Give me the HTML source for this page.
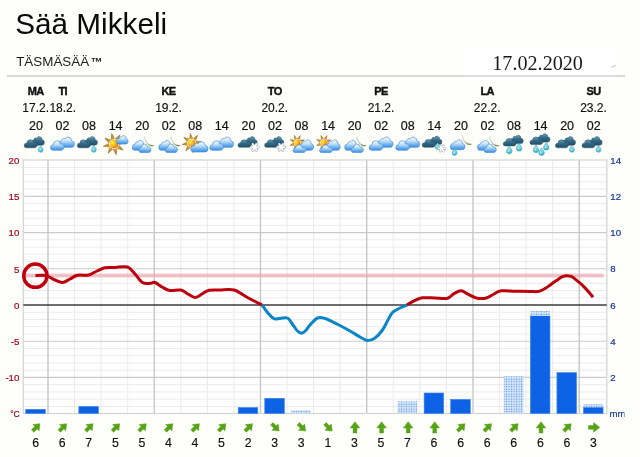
<!DOCTYPE html>
<html lang="fi"><head><meta charset="utf-8"><title>Sää Mikkeli</title>
<style>
html,body{margin:0;padding:0;}
body{width:640px;height:457px;overflow:hidden;background:#fefefb;position:relative;font-family:"Liberation Sans",Arial,sans-serif;color:#111;}
#title{position:absolute;left:15.3px;top:7.2px;font-size:29.7px;line-height:34px;color:#0a0a0a;white-space:nowrap;}
#sub{position:absolute;left:16.2px;top:55px;font-size:13.4px;line-height:14px;color:#1c1c1c;white-space:nowrap;}
#sub b{font-size:12px;margin-left:1.6px;line-height:10px;}
#date{position:absolute;left:492.3px;top:50.6px;transform:scaleY(1.04);transform-origin:0 100%;font-family:"Liberation Serif","Times New Roman",serif;font-size:20.15px;line-height:24px;color:#1a1a1a;white-space:nowrap;}
#rule{position:absolute;left:7px;top:74.6px;width:618px;height:2.4px;background:#dadad8;}
#patch{position:absolute;left:465px;top:44px;width:151px;height:34px;background:#ffffff;box-shadow:0 0 3px 1px #ffffff;}
#rule2{position:absolute;left:466px;top:74.6px;width:150px;height:2.4px;background:#dfdfdd;}
svg{position:absolute;left:0;top:0;}
.day{stroke:#111;stroke-width:0.4px;letter-spacing:-0.6px;font:bold 11px "Liberation Sans",Arial,sans-serif;fill:#111;text-anchor:middle;}
.dt{stroke:#111;stroke-width:0.15px;font:12px "Liberation Sans",Arial,sans-serif;fill:#111;text-anchor:middle;}
.hr{stroke:#111;stroke-width:0.2px;font:12.5px "Liberation Sans",Arial,sans-serif;fill:#111;text-anchor:middle;}
.la{font:9.7px "Liberation Sans",Arial,sans-serif;fill:#9c0016;stroke:#9c0016;stroke-width:0.2px;text-anchor:end;}
.ra{font:9.7px "Liberation Sans",Arial,sans-serif;fill:#183a9c;stroke:#183a9c;stroke-width:0.22px;text-anchor:start;}
.wn{stroke:#111;stroke-width:0.15px;font:12.3px "Liberation Sans",Arial,sans-serif;fill:#111;text-anchor:middle;}
</style></head><body>
<div id="title">Sää Mikkeli</div>
<div id="sub">TÄSMÄSÄÄ<b>™</b></div>
<div id="patch"></div>
<div id="date">17.02.2020</div>
<div id="rule"></div><div id="rule2"></div>
<svg width="640" height="457" viewBox="0 0 640 457">
<defs>
<linearGradient id="gd" x1="0" y1="0" x2="0" y2="1"><stop offset="0" stop-color="#6aa0ba"/><stop offset="0.45" stop-color="#356b88"/><stop offset="1" stop-color="#234d66"/></linearGradient>
<linearGradient id="gl" x1="0" y1="0" x2="0" y2="1"><stop offset="0" stop-color="#f6fbff"/><stop offset="0.38" stop-color="#c6e2f9"/><stop offset="0.68" stop-color="#78b8ef"/><stop offset="1" stop-color="#3a8ce0"/></linearGradient>
<radialGradient id="gs" cx="0.36" cy="0.32" r="0.8"><stop offset="0" stop-color="#fff04a"/><stop offset="0.38" stop-color="#ffc814"/><stop offset="0.72" stop-color="#f38a14"/><stop offset="1" stop-color="#dc4a14"/></radialGradient>
<linearGradient id="gy" x1="0" y1="0" x2="0" y2="1"><stop offset="0" stop-color="#7c5410"/><stop offset="0.5" stop-color="#c08a1c"/><stop offset="1" stop-color="#e6aa2a"/></linearGradient>
<linearGradient id="gm" x1="0" y1="0" x2="1" y2="1"><stop offset="0" stop-color="#dde2bc"/><stop offset="0.55" stop-color="#a9b268"/><stop offset="0.85" stop-color="#6c7634"/><stop offset="1" stop-color="#3f4a1c"/></linearGradient>
<linearGradient id="gr" x1="0" y1="0" x2="0" y2="1"><stop offset="0" stop-color="#b7ecf2"/><stop offset="1" stop-color="#35b4c8"/></linearGradient>
<pattern id="dots" x="0.3" y="0.5" width="2.5" height="2.5" patternUnits="userSpaceOnUse"><rect x="0" y="0" width="2.5" height="2.5" fill="#d9ebfc"/><rect x="0.7" y="0.6" width="1.2" height="1.2" fill="#5a8ae0"/></pattern>
<path id="cl" vector-effect="non-scaling-stroke" d="M3.2 11.6C1.2 11.6 0 10.4 0 8.8C0 7.2 1.2 6.1 2.8 6.1C3 3.9 4.7 2.4 6.8 2.4C7.6 2.4 8.3 2.6 8.9 3C9.7 1.2 11.4 0 13.4 0C15.9 0 17.9 1.9 18.1 4.3C19.3 4.8 20 5.9 20 7.2C20 8.9 18.7 10.1 17 10.1L14.5 10.1C14 11 13.2 11.6 12 11.6Z"/>
<path id="cl1" vector-effect="non-scaling-stroke" d="M3.60 12.00A3.60 3.60 0 1 1 3.85 4.81A3.60 3.60 0 0 1 8.53 1.98A4.40 4.40 0 0 1 16.60 4.42A3.80 3.80 0 0 1 16.20 12.00Z"/>
<path id="cl2" vector-effect="non-scaling-stroke" d="M3.40 12.00A3.40 3.40 0 1 1 4.00 5.25A5.20 5.20 0 0 1 14.32 4.28A4.00 4.00 0 1 1 15.80 12.00Z"/>
<g id="drop"><path d="M0 -3.6C1.2 -1.7 2.7 -0.3 2.7 1.2A2.7 2.7 0 0 1 -2.7 1.2C-2.7 -0.3 -1.2 -1.7 0 -3.6Z" fill="url(#gr)" stroke="#2e9db2" stroke-width="0.6"/><ellipse cx="-0.7" cy="0.9" rx="0.9" ry="1.2" fill="#d8f8fb" fill-opacity="0.7"/></g>
<g id="flake" stroke-linecap="round" fill="none"><path d="M-3.4 0H3.4M-1.7 -2.95L1.7 2.95M1.7 -2.95L-1.7 2.95" stroke="#8e9da8" stroke-width="2.6"/><path d="M-3.4 0H3.4M-1.7 -2.95L1.7 2.95M1.7 -2.95L-1.7 2.95" stroke="#fbfcfd" stroke-width="1.7"/></g>
<path id="ray" d="M0 -10.9L1.8 -5.1L-1.8 -5.1Z" fill="url(#gy)" stroke="#8a5a12" stroke-width="0.4" stroke-linejoin="round"/>
<g id="sun"><use href="#ray"/><use href="#ray" transform="rotate(45)"/><use href="#ray" transform="rotate(90)"/><use href="#ray" transform="rotate(135)"/><use href="#ray" transform="rotate(180)"/><use href="#ray" transform="rotate(225)"/><use href="#ray" transform="rotate(270)"/><use href="#ray" transform="rotate(315)"/>
<circle r="4.1" fill="url(#gs)"/></g>
<path id="moon" d="M0 0C0.2 5.6 3.8 9.9 10.6 10.1C9.2 11.3 6.4 11.2 4.4 9.6C1.4 7.2 0.2 3.6 0 0Z" fill="url(#gm)" stroke="#8a9450" stroke-width="0.25"/>
<path id="arr" d="M0 -5.7L4.8 0.5L1.9 0.5L1.9 5.6L-1.9 5.6L-1.9 0.5L-4.8 0.5Z" fill="#56a416" stroke="#56a416" stroke-width="0.5" stroke-linejoin="round"/>
<g id="iA"><use href="#cl1" transform="translate(-3.50 -7.40) scale(0.6600 0.7167)" fill="url(#gd)" stroke="#27536b" stroke-width="0.5"/><use href="#cl2" transform="translate(-10.50 -4.20) scale(0.6550 0.6667)" fill="url(#gd)" stroke="#27536b" stroke-width="0.5"/><use href="#drop" transform="translate(6.00 4.70) scale(0.92)"/></g>
<g id="iB"><use href="#cl1" transform="translate(-3.30 -7.00) scale(0.8200 0.8583)" fill="url(#gl)" stroke="#4a92de" stroke-width="0.7"/><use href="#cl2" transform="translate(-10.80 -3.20) scale(0.6850 0.7833)" fill="url(#gl)" stroke="#4a92de" stroke-width="0.7"/></g>
<g id="iC"><use href="#sun" transform="translate(-0.40 0.10) rotate(-12) scale(1.0)"/><use href="#cl1" transform="translate(2.00 -8.40) scale(0.5850 0.7000)" fill="url(#gl)" stroke="#4a92de" stroke-width="0.7"/></g>
<g id="iD"><use href="#moon" transform="translate(3.60 -7.60) scale(0.9)"/><use href="#cl1" transform="translate(-8.70 -3.70) scale(0.6800 0.8250)" fill="url(#gl)" stroke="#4a92de" stroke-width="0.7"/><use href="#cl2" transform="translate(-2.10 0.00) scale(0.6100 0.7083)" fill="url(#gl)" stroke="#4a92de" stroke-width="0.7"/></g>
<g id="iE"><use href="#sun" transform="translate(-2.40 -0.90) rotate(-8) scale(0.9)"/><use href="#cl1" transform="translate(-3.30 -2.30) scale(0.8650 0.8583)" fill="url(#gl)" stroke="#4a92de" stroke-width="0.7"/></g>
<g id="iF"><use href="#cl1" transform="translate(-2.50 -7.40) scale(0.6250 0.7000)" fill="url(#gd)" stroke="#27536b" stroke-width="0.5"/><use href="#cl2" transform="translate(-9.20 -4.20) scale(0.6600 0.6250)" fill="url(#gd)" stroke="#27536b" stroke-width="0.5"/><use href="#flake" transform="translate(7.40 3.20) scale(1.05)"/></g>
<g id="iG"><use href="#sun" transform="translate(-3.10 -1.35) rotate(-22) scale(0.72)"/><use href="#cl1" transform="translate(-1.30 -4.20) scale(0.7300 0.8667)" fill="url(#gl)" stroke="#4a92de" stroke-width="0.7"/><use href="#cl2" transform="translate(-7.30 1.00) scale(0.6500 0.6250)" fill="url(#gl)" stroke="#4a92de" stroke-width="0.7"/></g>
<g id="iH"><use href="#cl1" transform="translate(-4.00 -7.90) scale(0.6400 0.7083)" fill="url(#gd)" stroke="#27536b" stroke-width="0.5"/><use href="#cl2" transform="translate(-10.90 -4.60) scale(0.6650 0.6583)" fill="url(#gd)" stroke="#27536b" stroke-width="0.5"/><use href="#drop" transform="translate(4.60 2.00) scale(0.9)"/><use href="#flake" transform="translate(8.60 4.40) scale(0.95)"/></g>
<g id="iI"><use href="#moon" transform="translate(2.60 -9.00) scale(0.9)"/><use href="#cl1" transform="translate(-9.40 -4.20) scale(0.7300 0.8250)" fill="url(#gl)" stroke="#4a92de" stroke-width="0.7"/><use href="#drop" transform="translate(-5.10 7.90) scale(0.9)"/></g>
<g id="iJ"><use href="#cl1" transform="translate(-2.60 -8.80) scale(0.6550 0.7000)" fill="url(#gd)" stroke="#27536b" stroke-width="0.5"/><use href="#cl2" transform="translate(-9.60 -5.60) scale(0.6600 0.6333)" fill="url(#gd)" stroke="#27536b" stroke-width="0.5"/><use href="#drop" transform="translate(-3.50 5.90) scale(1.0)"/><use href="#drop" transform="translate(6.30 3.20) scale(1.0)"/></g>
<g id="iK"><use href="#cl1" transform="translate(-2.60 -10.25) scale(0.6600 0.6958)" fill="url(#gd)" stroke="#27536b" stroke-width="0.5"/><use href="#cl2" transform="translate(-9.50 -7.00) scale(0.6550 0.6250)" fill="url(#gd)" stroke="#27536b" stroke-width="0.5"/><use href="#drop" transform="translate(-3.40 4.70) scale(1.0)"/><use href="#drop" transform="translate(2.20 7.50) scale(1.0)"/><use href="#drop" transform="translate(6.90 2.20) scale(1.0)"/></g>
</defs>

<path d="M611.8 67.2L615.6 65.4" stroke="#d2d2d6" stroke-width="1.3" stroke-linecap="round"/>
<rect x="23.3" y="160.0" width="583.5" height="253.5" fill="#ffffff"/>
<path d="M23.3 406.40H606.75M23.3 399.16H606.75M23.3 391.91H606.75M23.3 384.67H606.75M23.3 370.19H606.75M23.3 362.94H606.75M23.3 355.70H606.75M23.3 348.46H606.75M23.3 333.97H606.75M23.3 326.73H606.75M23.3 319.49H606.75M23.3 312.24H606.75M23.3 297.76H606.75M23.3 290.51H606.75M23.3 283.27H606.75M23.3 276.03H606.75M23.3 261.54H606.75M23.3 254.30H606.75M23.3 247.06H606.75M23.3 239.81H606.75M23.3 225.33H606.75M23.3 218.09H606.75M23.3 210.84H606.75M23.3 203.60H606.75M23.3 189.11H606.75M23.3 181.87H606.75M23.3 174.63H606.75M23.3 167.39H606.75" stroke="#ebebe9" stroke-width="1" fill="none"/>
<path d="M74.56 160.0V413.5M101.12 160.0V413.5M127.68 160.0V413.5M180.80 160.0V413.5M207.36 160.0V413.5M233.92 160.0V413.5M287.04 160.0V413.5M313.60 160.0V413.5M340.16 160.0V413.5M393.28 160.0V413.5M419.84 160.0V413.5M446.40 160.0V413.5M499.52 160.0V413.5M526.08 160.0V413.5M552.64 160.0V413.5" stroke="#ebebe9" stroke-width="1.05" fill="none"/>
<path d="M23.3 196.36H606.75M23.3 232.57H606.75M23.3 268.79H606.75M23.3 341.21H606.75M23.3 377.43H606.75" stroke="#cbcbc9" stroke-width="1.15" fill="none"/>
<path d="M48.00 160.0V413.5M154.24 160.0V413.5M260.48 160.0V413.5M366.72 160.0V413.5M472.96 160.0V413.5M579.20 160.0V413.5" stroke="#c4c4c2" stroke-width="1.3" fill="none"/>
<rect x="23.3" y="160.0" width="583.5" height="253.5" fill="none" stroke="#d4d4d2" stroke-width="1.25"/>
<rect x="25.72" y="409.30" width="19.6" height="4.20" fill="#0d62e6" stroke="#3d86ee" stroke-width="0.6"/>
<rect x="78.84" y="406.50" width="19.6" height="7.00" fill="#0d62e6" stroke="#3d86ee" stroke-width="0.6"/>
<rect x="238.20" y="407.50" width="19.6" height="6.00" fill="#0d62e6" stroke="#3d86ee" stroke-width="0.6"/>
<rect x="264.76" y="398.30" width="19.6" height="15.20" fill="#0d62e6" stroke="#3d86ee" stroke-width="0.6"/>
<rect x="291.32" y="410.30" width="19.6" height="3.20" fill="url(#dots)"/>
<rect x="397.56" y="401.30" width="19.6" height="12.20" fill="url(#dots)"/>
<rect x="424.12" y="393.00" width="19.6" height="20.50" fill="#0d62e6" stroke="#3d86ee" stroke-width="0.6"/>
<rect x="450.68" y="399.40" width="19.6" height="14.10" fill="#0d62e6" stroke="#3d86ee" stroke-width="0.6"/>
<rect x="503.80" y="376.20" width="19.6" height="37.30" fill="url(#dots)"/>
<rect x="530.36" y="315.80" width="19.6" height="97.70" fill="#0d62e6" stroke="#3d86ee" stroke-width="0.6"/>
<rect x="530.36" y="311.00" width="19.6" height="4.80" fill="url(#dots)"/>
<rect x="556.92" y="372.60" width="19.6" height="40.90" fill="#0d62e6" stroke="#3d86ee" stroke-width="0.6"/>
<rect x="583.48" y="407.20" width="19.6" height="6.30" fill="#0d62e6" stroke="#3d86ee" stroke-width="0.6"/>
<rect x="583.48" y="404.20" width="19.6" height="3.00" fill="url(#dots)"/>
<rect x="23.3" y="273.6" width="580.3" height="3.8" fill="#eaa6b0" fill-opacity="0.68"/>
<path d="M23.3 305.0H606.75" stroke="#3c3c3c" stroke-width="1.7"/>
<path d="M35.50 275.50C37.25 275.52 42.75 274.85 46.00 275.60C49.25 276.35 52.25 278.85 55.00 280.00C57.75 281.15 60.00 282.67 62.50 282.50C65.00 282.33 67.50 280.20 70.00 279.00C72.50 277.80 74.38 275.97 77.50 275.30C80.62 274.63 85.50 275.72 88.75 275.00C92.00 274.28 94.29 272.20 97.00 271.00C99.71 269.80 102.00 268.38 105.00 267.80C108.00 267.22 111.25 267.63 115.00 267.50C118.75 267.37 124.17 265.92 127.50 267.00C130.83 268.08 132.50 271.42 135.00 274.00C137.50 276.58 140.00 280.95 142.50 282.50C145.00 284.05 147.92 283.30 150.00 283.30C152.08 283.30 153.00 281.88 155.00 282.50C157.00 283.12 159.50 285.67 162.00 287.00C164.50 288.33 166.83 290.00 170.00 290.50C173.17 291.00 178.00 289.42 181.00 290.00C184.00 290.58 185.67 292.75 188.00 294.00C190.33 295.25 192.67 297.50 195.00 297.50C197.33 297.50 199.67 295.20 202.00 294.00C204.33 292.80 206.00 290.97 209.00 290.30C212.00 289.63 215.83 290.05 220.00 290.00C224.17 289.95 229.42 288.75 234.00 290.00C238.58 291.25 242.83 295.00 247.50 297.50C252.17 300.00 259.58 303.75 262.00 305.00" fill="none" stroke="#bc000d" stroke-width="3.0" stroke-linecap="butt" stroke-linejoin="round"/>
<path d="M262.00 305.00C263.00 306.33 266.04 310.75 268.00 313.00C269.96 315.25 271.75 317.58 273.75 318.50C275.75 319.42 277.71 318.58 280.00 318.50C282.29 318.42 285.33 316.92 287.50 318.00C289.67 319.08 291.33 322.83 293.00 325.00C294.67 327.17 296.10 329.63 297.50 331.00C298.90 332.37 300.10 333.20 301.40 333.20C302.70 333.20 303.87 332.37 305.30 331.00C306.73 329.63 307.97 327.17 310.00 325.00C312.03 322.83 315.00 319.08 317.50 318.00C320.00 316.92 321.75 317.50 325.00 318.50C328.25 319.50 332.83 321.92 337.00 324.00C341.17 326.08 346.17 328.83 350.00 331.00C353.83 333.17 357.08 335.42 360.00 337.00C362.92 338.58 365.00 340.33 367.50 340.50C370.00 340.67 372.50 339.75 375.00 338.00C377.50 336.25 380.33 333.00 382.50 330.00C384.67 327.00 386.33 322.92 388.00 320.00C389.67 317.08 390.50 314.50 392.50 312.50C394.50 310.50 397.58 309.25 400.00 308.00C402.42 306.75 405.83 305.50 407.00 305.00" fill="none" stroke="#0886c8" stroke-width="3.0" stroke-linecap="butt" stroke-linejoin="round"/>
<path d="M407.00 305.00C408.25 304.27 411.92 301.80 414.50 300.60C417.08 299.40 419.08 298.23 422.50 297.80C425.92 297.37 430.83 297.93 435.00 298.00C439.17 298.07 444.33 298.93 447.50 298.20C450.67 297.47 451.71 294.83 454.00 293.60C456.29 292.37 458.92 290.70 461.25 290.80C463.58 290.90 465.50 293.00 468.00 294.20C470.50 295.40 473.21 297.37 476.25 298.00C479.29 298.63 483.29 298.67 486.25 298.00C489.21 297.33 491.50 295.20 494.00 294.00C496.50 292.80 497.75 291.27 501.25 290.80C504.75 290.33 510.21 291.08 515.00 291.20C519.79 291.32 526.25 291.43 530.00 291.50C533.75 291.57 535.67 291.75 537.50 291.60C539.33 291.45 539.67 291.15 541.00 290.60C542.33 290.05 543.83 289.33 545.50 288.30C547.17 287.27 549.18 285.68 551.00 284.40C552.82 283.12 554.58 281.85 556.40 280.60C558.22 279.35 560.26 277.72 561.90 276.90C563.54 276.08 564.90 275.82 566.25 275.70C567.60 275.58 568.91 275.93 570.00 276.20C571.09 276.47 571.42 276.38 572.80 277.30C574.18 278.22 576.47 280.15 578.30 281.70C580.13 283.25 581.98 284.78 583.80 286.60C585.62 288.42 587.67 290.83 589.20 292.60C590.73 294.37 592.37 296.43 593.00 297.20" fill="none" stroke="#bc000d" stroke-width="3.0" stroke-linecap="butt" stroke-linejoin="round"/>
<circle cx="35.35" cy="275.7" r="11.6" fill="none" stroke="#c0000c" stroke-width="3.5"/>
<text class="la" x="19.4" y="163.8">20</text>
<text class="la" x="19.4" y="200.1">15</text>
<text class="la" x="19.4" y="236.3">10</text>
<text class="la" x="19.4" y="272.5">5</text>
<text class="la" x="19.4" y="308.7">0</text>
<text class="la" x="19.4" y="344.9">-5</text>
<text class="la" x="19.4" y="381.1">-10</text>
<text class="la" x="19.8" y="416.7" style="font-size:8.6px">°C</text>
<text class="ra" x="610.3" y="163.8">14</text>
<text class="ra" x="610.3" y="200.0">12</text>
<text class="ra" x="610.3" y="236.2">10</text>
<text class="ra" x="610.3" y="272.4">8</text>
<text class="ra" x="610.3" y="308.7">6</text>
<text class="ra" x="610.3" y="344.9">4</text>
<text class="ra" x="610.3" y="381.1">2</text>
<clipPath id="cm"><rect x="600" y="405" width="24.4" height="20"/></clipPath><text class="ra" x="609.6" y="416.9" style="font-size:9.6px" clip-path="url(#cm)">mm</text>
<text class="day" x="35.7" y="94.6">MA</text>
<text class="dt" x="35.7" y="112">17.2.</text>
<text class="day" x="62.8" y="94.6">TI</text>
<text class="dt" x="62.8" y="112">18.2.</text>
<text class="day" x="168.5" y="94.6">KE</text>
<text class="dt" x="168.5" y="112">19.2.</text>
<text class="day" x="274.8" y="94.6">TO</text>
<text class="dt" x="274.8" y="112">20.2.</text>
<text class="day" x="381.0" y="94.6">PE</text>
<text class="dt" x="381.0" y="112">21.2.</text>
<text class="day" x="487.2" y="94.6">LA</text>
<text class="dt" x="487.2" y="112">22.2.</text>
<text class="day" x="593.5" y="94.6">SU</text>
<text class="dt" x="593.5" y="112">23.2.</text>
<text class="hr" x="35.9" y="129.8">20</text>
<use href="#iA" x="34.7" y="144"/>
<text class="hr" x="62.5" y="129.8">02</text>
<use href="#iB" x="61.3" y="144"/>
<text class="hr" x="89.0" y="129.8">08</text>
<use href="#iA" x="87.8" y="144"/>
<text class="hr" x="115.6" y="129.8">14</text>
<use href="#iC" x="114.4" y="144"/>
<text class="hr" x="142.2" y="129.8">20</text>
<use href="#iD" x="141.0" y="144"/>
<text class="hr" x="168.7" y="129.8">02</text>
<use href="#iD" x="167.5" y="144"/>
<text class="hr" x="195.3" y="129.8">08</text>
<use href="#iE" x="194.1" y="144"/>
<text class="hr" x="221.8" y="129.8">14</text>
<use href="#iB" x="220.6" y="144"/>
<text class="hr" x="248.4" y="129.8">20</text>
<use href="#iF" x="247.2" y="144"/>
<text class="hr" x="275.0" y="129.8">02</text>
<use href="#iF" x="273.8" y="144"/>
<text class="hr" x="301.5" y="129.8">08</text>
<use href="#iG" x="300.3" y="144"/>
<text class="hr" x="328.1" y="129.8">14</text>
<use href="#iG" x="326.9" y="144"/>
<text class="hr" x="354.6" y="129.8">20</text>
<use href="#iD" x="353.4" y="144"/>
<text class="hr" x="381.2" y="129.8">02</text>
<use href="#iB" x="380.0" y="144"/>
<text class="hr" x="407.8" y="129.8">08</text>
<use href="#iB" x="406.6" y="144"/>
<text class="hr" x="434.3" y="129.8">14</text>
<use href="#iH" x="433.1" y="144"/>
<text class="hr" x="460.9" y="129.8">20</text>
<use href="#iI" x="459.7" y="144"/>
<text class="hr" x="487.4" y="129.8">02</text>
<use href="#iD" x="486.2" y="144"/>
<text class="hr" x="514.0" y="129.8">08</text>
<use href="#iJ" x="512.8" y="144"/>
<text class="hr" x="540.6" y="129.8">14</text>
<use href="#iK" x="539.4" y="144"/>
<text class="hr" x="567.1" y="129.8">20</text>
<use href="#iA" x="565.9" y="144"/>
<text class="hr" x="593.7" y="129.8">02</text>
<use href="#iA" x="592.5" y="144"/>
<use href="#arr" transform="translate(36.3 427.4) rotate(45) scale(0.92)"/>
<text class="wn" x="35.6" y="447">6</text>
<use href="#arr" transform="translate(62.9 427.4) rotate(45) scale(0.92)"/>
<text class="wn" x="62.2" y="447">6</text>
<use href="#arr" transform="translate(89.4 427.4) rotate(45) scale(0.92)"/>
<text class="wn" x="88.7" y="447">7</text>
<use href="#arr" transform="translate(116.0 427.4) rotate(45) scale(0.92)"/>
<text class="wn" x="115.3" y="447">5</text>
<use href="#arr" transform="translate(142.6 427.4) rotate(45) scale(0.92)"/>
<text class="wn" x="141.9" y="447">5</text>
<use href="#arr" transform="translate(169.1 427.4) rotate(45) scale(0.92)"/>
<text class="wn" x="168.4" y="447">4</text>
<use href="#arr" transform="translate(195.7 427.4) rotate(45) scale(0.92)"/>
<text class="wn" x="195.0" y="447">4</text>
<use href="#arr" transform="translate(222.2 427.4) rotate(45) scale(0.92)"/>
<text class="wn" x="221.5" y="447">5</text>
<use href="#arr" transform="translate(248.8 427.4) rotate(45) scale(0.92)"/>
<text class="wn" x="248.1" y="447">2</text>
<use href="#arr" transform="translate(275.4 427.4) rotate(135) scale(0.92)"/>
<text class="wn" x="274.7" y="447">3</text>
<use href="#arr" transform="translate(301.9 427.4) rotate(135) scale(0.92)"/>
<text class="wn" x="301.2" y="447">3</text>
<use href="#arr" transform="translate(328.5 427.4) rotate(135) scale(0.92)"/>
<text class="wn" x="327.8" y="447">1</text>
<use href="#arr" transform="translate(355.0 427.4) rotate(0) scale(1.0)"/>
<text class="wn" x="354.3" y="447">3</text>
<use href="#arr" transform="translate(381.6 427.4) rotate(0) scale(1.0)"/>
<text class="wn" x="380.9" y="447">5</text>
<use href="#arr" transform="translate(408.2 427.4) rotate(0) scale(1.0)"/>
<text class="wn" x="407.5" y="447">7</text>
<use href="#arr" transform="translate(434.7 427.4) rotate(0) scale(1.0)"/>
<text class="wn" x="434.0" y="447">6</text>
<use href="#arr" transform="translate(461.3 427.4) rotate(45) scale(0.92)"/>
<text class="wn" x="460.6" y="447">6</text>
<use href="#arr" transform="translate(487.8 427.4) rotate(45) scale(0.92)"/>
<text class="wn" x="487.1" y="447">6</text>
<use href="#arr" transform="translate(514.4 427.4) rotate(45) scale(0.92)"/>
<text class="wn" x="513.7" y="447">6</text>
<use href="#arr" transform="translate(541.0 427.4) rotate(0) scale(1.0)"/>
<text class="wn" x="540.3" y="447">6</text>
<use href="#arr" transform="translate(567.5 427.4) rotate(45) scale(0.92)"/>
<text class="wn" x="566.8" y="447">6</text>
<use href="#arr" transform="translate(594.1 427.4) rotate(90) scale(1.0)"/>
<text class="wn" x="593.4" y="447">3</text>
</svg></body></html>
